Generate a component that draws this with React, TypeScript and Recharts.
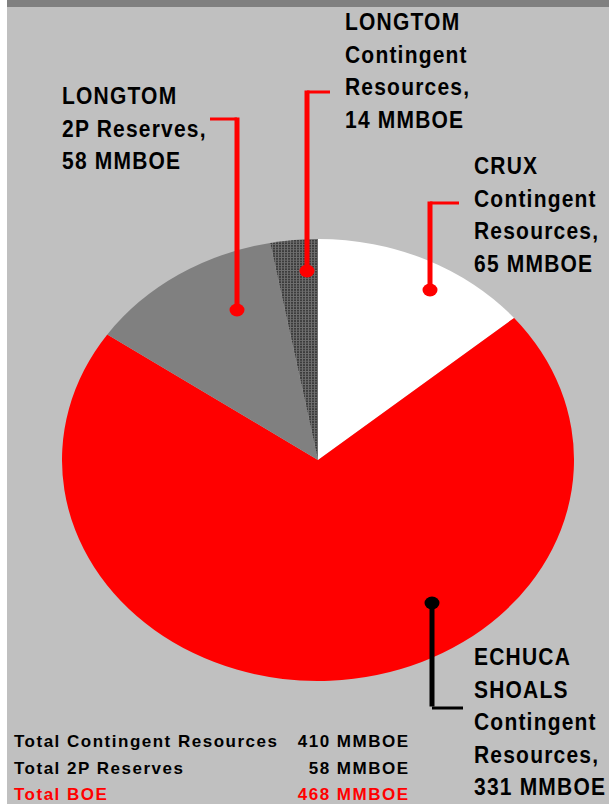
import { PieChart, Pie, Cell } from "recharts";

// slices, clockwise from 12 o'clock
const sliceNames = ["CRUX", "ECHUCA SHOALS", "LONGTOM 2P", "LONGTOM Contingent"];
const sliceValues = [65, 331, 58, 14];

const labelLines: string[][] = [
  ["CRUX", "Contingent", "Resources,", "65 MMBOE"],
  ["ECHUCA", "SHOALS", "Contingent", "Resources,", "331 MMBOE"],
  ["LONGTOM", "2P Reserves,", "58 MMBOE"],
  ["LONGTOM", "Contingent", "Resources,", "14 MMBOE"],
];

const totalNames = ["Total Contingent Resources", "Total 2P Reserves", "Total BOE"];
const totalValues = ["410 MMBOE", "58 MMBOE", "468 MMBOE"];

const COLORS: Record<string, string> = {
  CRUX: "#ffffff",
  "ECHUCA SHOALS": "#ff0000",
  "LONGTOM 2P": "#808080",
  "LONGTOM Contingent": "url(#hatch)",
};

// where each callout sits on the page: text block, elbow and dot
const CALLOUTS: Record<string, { tx: number; ty: number; line: string; hx: number; hy: number; vx: number; dy: number }> = {
  CRUX: { tx: 474, ty: 150, line: "#ff0000", hx: 459, hy: 203, vx: 430, dy: 290 },
  "ECHUCA SHOALS": { tx: 474, ty: 641, line: "#000000", hx: 463, hy: 708, vx: 432, dy: 603 },
  "LONGTOM 2P": { tx: 62, ty: 80, line: "#ff0000", hx: 210, hy: 119, vx: 237, dy: 310 },
  "LONGTOM Contingent": { tx: 345, ty: 6, line: "#ff0000", hx: 330, hy: 92, vx: 307, dy: 271 },
};

const FONT = "'Liberation Sans', Arial, sans-serif";
const R = 256;
const SQUASH = 221 / 256;

export default function App() {
  const data = sliceNames.map((name, i) => ({ name, value: sliceValues[i] }));

  return (
    <div style={{ position: "absolute", left: 0, top: 0, width: 609, height: 804, background: "#ffffff", overflow: "hidden" }}>
      <svg width={0} height={0} style={{ position: "absolute" }}>
        <defs>
          <pattern id="hatch" width={3} height={3} patternUnits="userSpaceOnUse">
            <rect width={3} height={3} fill="#3c3c3c" />
            <rect width={3} height={1} fill="#6e6e6e" />
            <rect width={1} height={3} fill="#6e6e6e" />
          </pattern>
        </defs>
      </svg>

      <div style={{ position: "absolute", left: 7, top: 0, width: 602, height: 804, background: "#c0c0c0" }} />
      <div style={{ position: "absolute", left: 7, top: 0, width: 602, height: 7, background: "#808080" }} />

      {/* pie, squashed into an ellipse */}
      <div
        style={{
          position: "absolute",
          left: 318 - R,
          top: 460 - R,
          width: R * 2,
          height: R * 2,
          transform: `scaleY(${SQUASH})`,
          transformOrigin: "50% 50%",
        }}
      >
        <PieChart width={R * 2} height={R * 2} margin={{ top: 0, right: 0, bottom: 0, left: 0 }}>
          <Pie
            data={data}
            dataKey="value"
            cx="50%"
            cy="50%"
            innerRadius={0}
            outerRadius={R}
            startAngle={90}
            endAngle={-270}
            stroke="none"
            isAnimationActive={false}
          >
            {data.map((d) => (
              <Cell key={d.name} fill={COLORS[d.name]} />
            ))}
          </Pie>
        </PieChart>
      </div>

      {/* callout lines */}
      <svg width={609} height={804} style={{ position: "absolute", left: 0, top: 0, pointerEvents: "none" }}>
        {sliceNames.map((name) => {
          const c = CALLOUTS[name];
          return (
            <g key={name} fill={c.line} stroke={c.line}>
              <line x1={c.hx} y1={c.hy} x2={c.vx} y2={c.hy} strokeWidth={3} />
              <line x1={c.vx} y1={c.hy - 1.5} x2={c.vx} y2={c.dy} strokeWidth={5} />
              <ellipse cx={c.vx} cy={c.dy} rx={7.5} ry={6.5} stroke="none" />
            </g>
          );
        })}
      </svg>

      {/* callout text */}
      {sliceNames.map((name, i) => {
        const c = CALLOUTS[name];
        return (
          <div
            key={name}
            style={{
              position: "absolute",
              left: c.tx,
              top: c.ty,
              fontFamily: FONT,
              fontWeight: 700,
              fontSize: 21,
              letterSpacing: 1.2,
              lineHeight: "32.5px",
              color: "#000",
              whiteSpace: "nowrap",
            }}
          >
            {labelLines[i].map((t) => (
              <div key={t} style={{ transform: "scaleY(1.15)", transformOrigin: "0 50%" }}>
                {t}
              </div>
            ))}
          </div>
        );
      })}

      {/* totals */}
      <div style={{ position: "absolute", left: 14, top: 729, width: 394, fontFamily: FONT, fontWeight: 700, fontSize: 17, letterSpacing: 1.5 }}>
        {totalNames.map((n, i) => (
          <div
            key={n}
            style={{
              display: "flex",
              justifyContent: "space-between",
              lineHeight: "26.5px",
              color: i === 2 ? "#ff0000" : "#000",
              whiteSpace: "nowrap",
            }}
          >
            <span>{n}</span>
            <span style={{ marginRight: -1.5 }}>{totalValues[i]}</span>
          </div>
        ))}
      </div>
    </div>
  );
}
